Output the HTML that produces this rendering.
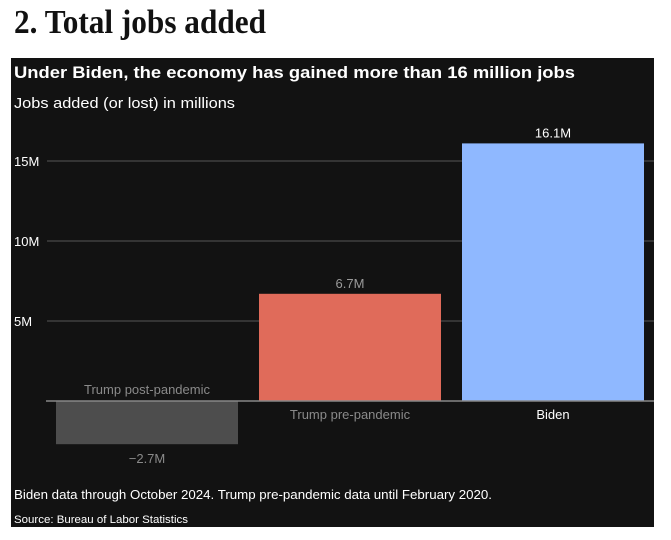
<!DOCTYPE html>
<html><head><meta charset="utf-8"><style>
html,body{margin:0;padding:0;background:#fff;width:671px;height:540px;overflow:hidden}
svg{display:block}
</style></head><body>
<svg width="671" height="540">
<text x="14" y="33" font-family="Liberation Serif, serif" font-size="34" font-weight="bold" fill="#111" textLength="252" lengthAdjust="spacingAndGlyphs">2. Total jobs added</text>
<rect x="11" y="58" width="643" height="469" fill="#121212"/>
<text x="14" y="78" font-family="Liberation Sans, sans-serif" font-size="17" font-weight="bold" fill="#fff" textLength="561" lengthAdjust="spacingAndGlyphs">Under Biden, the economy has gained more than 16 million jobs</text>
<text x="14" y="108" font-family="Liberation Sans, sans-serif" font-size="15" fill="#fff" textLength="221" lengthAdjust="spacingAndGlyphs">Jobs added (or lost) in millions</text>
<g id="plot"></g>
<text x="14" y="499" font-family="Liberation Sans, sans-serif" font-size="13" fill="#fff" textLength="478" lengthAdjust="spacingAndGlyphs">Biden data through October 2024. Trump pre-pandemic data until February 2020.</text>
<text x="14" y="523" font-family="Liberation Sans, sans-serif" font-size="11" fill="#fff" textLength="174" lengthAdjust="spacingAndGlyphs">Source: Bureau of Labor Statistics</text>
</svg>
<script>
const categories = ["Trump post-pandemic", "Trump pre-pandemic", "Biden"];
const values = [-2.7, 6.7, 16.1];
const valueLabels = ["\u22122.7M", "6.7M", "16.1M"];
const tickValues = [5, 10, 15];
const tickLabels = ["5M", "10M", "15M"];
const colors = ["#4d4d4d", "#e06b5a", "#8fb8ff"];
const catColors = ["#8a8a8a", "#8a8a8a", "#ffffff"];
const valColors = ["#8a8a8a", "#9a9a9a", "#ffffff"];

const NS = "http://www.w3.org/2000/svg";
const g = document.getElementById('plot');
const y0 = 401, pxPerM = 16;
function y(v){ return y0 - v * pxPerM; }
const bandStart = 56, bandStep = 203, barW = 182;
function x(i){ return bandStart + i * bandStep; }
function mk(tag, attrs){ const e = document.createElementNS(NS, tag); for (const k in attrs) e.setAttribute(k, attrs[k]); g.appendChild(e); return e; }

tickValues.forEach((t, i) => {
  const line = mk('line', {x1: 47, x2: 654, y1: y(t), y2: y(t), stroke: '#555', 'stroke-width': 1});
  
  
  const tx = mk('text', {x: 14, y: y(t) + 5, 'font-family': 'Liberation Sans, sans-serif', 'font-size': 13, fill: '#fff'});
  tx.textContent = tickLabels[i];
  
  
});

values.forEach((v, i) => {
  const top = Math.min(y(v), y0), h = Math.abs(y(v) - y0);
  const r = mk('rect', {x: x(i), y: top, width: barW, height: h, fill: colors[i]});
  
  
  const cx = x(i) + barW / 2;
  const vl = mk('text', {x: cx, y: v >= 0 ? y(v) - 6 : y(v) + 19, 'text-anchor': 'middle', 'font-family': 'Liberation Sans, sans-serif', 'font-size': 13, fill: valColors[i]});
  vl.textContent = valueLabels[i];
  
  
  const cl = mk('text', {x: cx, y: v >= 0 ? y0 + 18 : y0 - 7, 'text-anchor': 'middle', 'font-family': 'Liberation Sans, sans-serif', 'font-size': 13, fill: catColors[i]});
  cl.textContent = categories[i];
  
  
});

const base = mk('line', {x1: 46, x2: 654, y1: y0, y2: y0, stroke: '#888', 'stroke-width': 1.5});


</script>
</body></html>
